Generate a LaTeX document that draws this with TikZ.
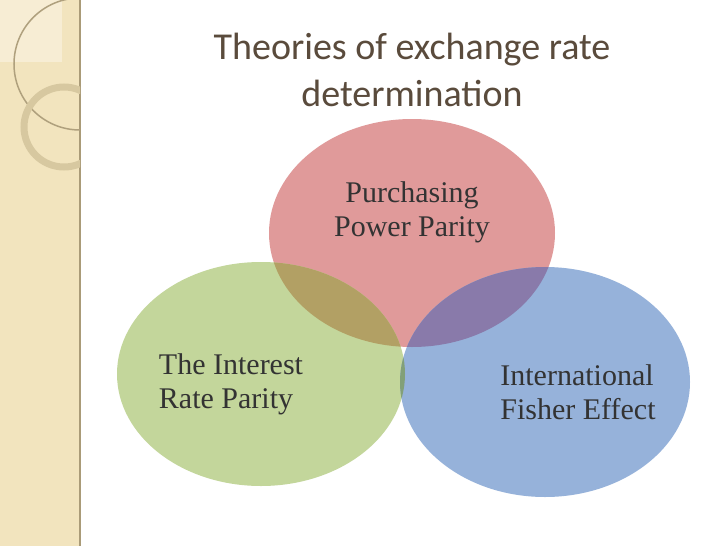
\documentclass[tikz,border=0pt]{standalone}
\usepackage{fontspec}
\setmainfont{Liberation Serif}
\newfontfamily\titlefont{Carlito}
\definecolor{strip}{RGB}{242,228,190}
\definecolor{stripl}{RGB}{247,237,212}
\definecolor{stripline}{RGB}{170,155,120}
\definecolor{arcc}{RGB}{175,160,125}
\definecolor{ringc}{RGB}{215,200,160}
\definecolor{titlec}{RGB}{90,75,60}
\definecolor{pinkc}{RGB}{224,154,154}
\definecolor{greenc}{RGB}{195,214,155}
\definecolor{bluec}{RGB}{150,178,218}
\definecolor{pgc}{RGB}{178,160,100}
\definecolor{pbc}{RGB}{137,122,170}
\definecolor{gbc}{RGB}{130,160,120}
\begin{document}
\begin{tikzpicture}[x=1pt,y=-1pt,
  lbl/.style={font=\fontsize{30}{34}\selectfont, text=black!80, align=left}]
\useasboundingbox (0,0) rectangle (728,546);
\fill[white] (0,0) rectangle (728,546);
\fill[strip] (0,0) rectangle (80,546);
\fill[stripl] (0,0) rectangle (62,62);
\draw[line width=1.5pt, stripline] (80,0) -- (80,546);
\begin{scope}
\clip (0,0) rectangle (80,546);
\draw[line width=1.5pt, arcc] (80,64) circle[radius=66];
\draw[line width=7pt, ringc] (64,127) circle[radius=40];
\end{scope}
\node[font=\titlefont\fontsize{38}{47}\selectfont, text=titlec, align=center] (title) at (412,70) {Theories of exchange rate\\determination};
\fill[pinkc] (412,233) ellipse[x radius=143, y radius=114];
\fill[greenc] (261,374) ellipse[x radius=144, y radius=112];
\fill[bluec] (545,382) ellipse[x radius=145, y radius=115];
\begin{scope}
\clip (412,233) ellipse[x radius=143, y radius=114];
\fill[pgc] (261,374) ellipse[x radius=144, y radius=112];
\fill[pbc] (545,382) ellipse[x radius=145, y radius=115];
\end{scope}
\begin{scope}
\clip (261,374) ellipse[x radius=144, y radius=112];
\fill[gbc] (545,382) ellipse[x radius=145, y radius=115];
\end{scope}
\node[lbl, align=center] (ppp) at (412,212) {Purchasing\\Power Parity};
\node[lbl] (irp) at (231,384) {The Interest\\Rate Parity};
\node[lbl] (ife) at (578,392) {International\\Fisher Effect};
\end{tikzpicture}
\end{document}
